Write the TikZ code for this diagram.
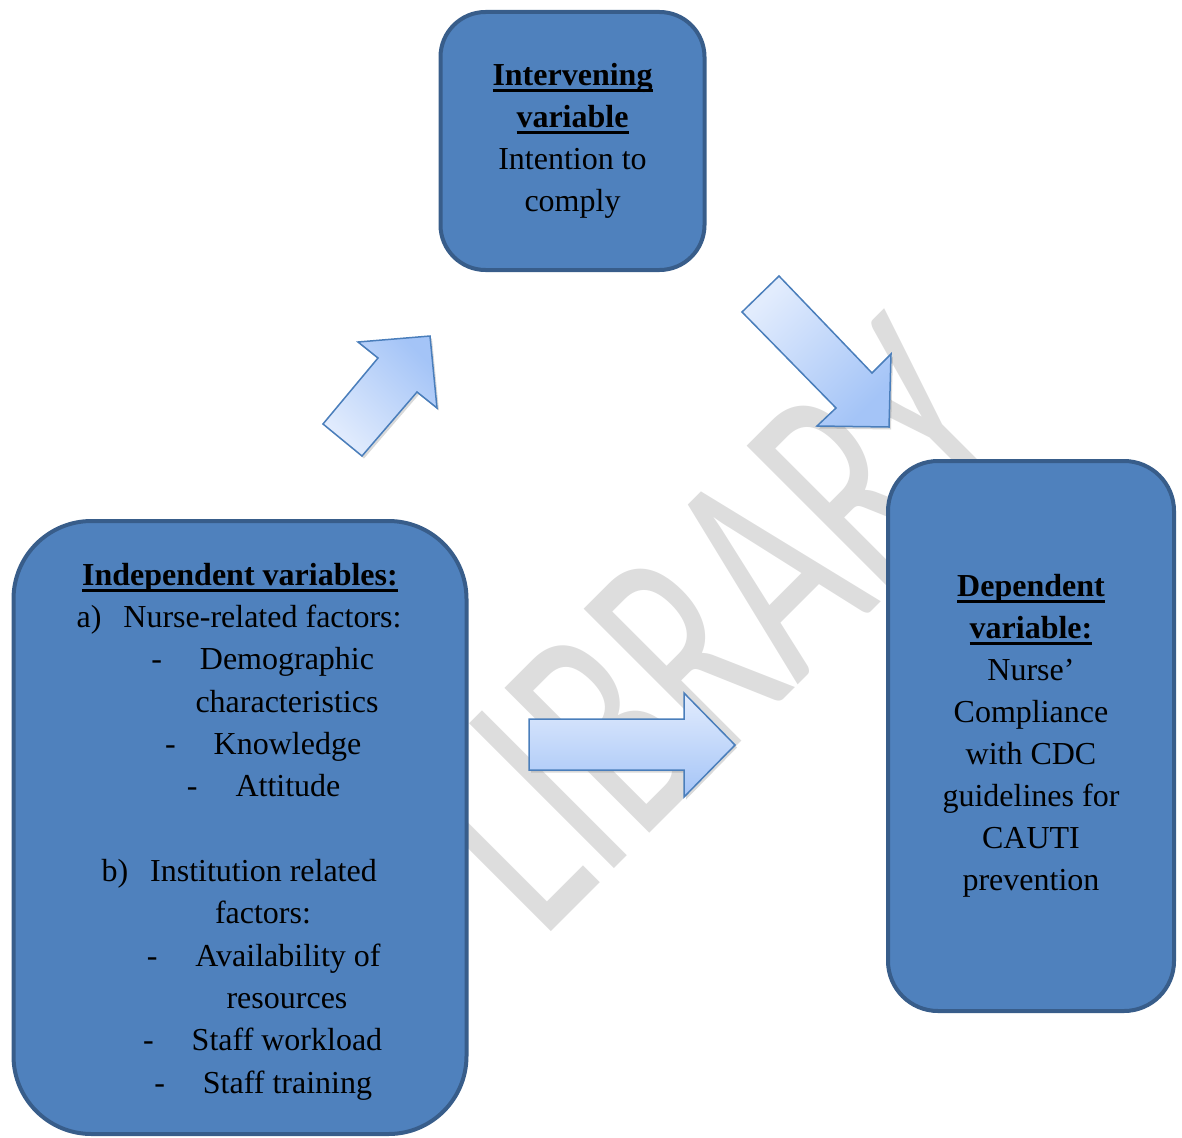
\documentclass[tikz,border=0pt]{standalone}
\usepackage{fontspec}
\setmainfont{Liberation Serif}
\newfontfamily\wmfont{Carlito}
\usetikzlibrary{shadows}
\definecolor{boxfill}{RGB}{79,129,189}
\definecolor{boxline}{RGB}{56,93,138}
\definecolor{arrline}{RGB}{74,126,187}
\definecolor{arrlight}{RGB}{226,236,253}
\definecolor{arrdark}{RGB}{164,196,247}
\definecolor{wmgray}{RGB}{221,221,221}
\newsavebox\ulbox
\newcommand{\ulbf}[1]{\sbox\ulbox{\textbf{#1}}\rlap{\rule[-6.5pt]{\wd\ulbox}{3pt}}\usebox\ulbox}
\tikzset{
  varbox/.style={draw=boxline, fill=boxfill, line width=4pt, rounded corners=#1,
    inner sep=0pt, align=center, font=\fontsize{32}{42}\selectfont},
  txt/.style={font=\fontsize{32}{42}\selectfont, inner sep=0pt, anchor=base},
  blockarrow/.style={draw=arrline, line width=1.5pt,
    drop shadow={opacity=0.3, shadow xshift=2pt, shadow yshift=-2.5pt}},
}
\begin{document}
\begin{tikzpicture}[x=1pt, y=-1pt]
  \useasboundingbox (0,0) rectangle (1182,1137);
  % watermark
  \begin{scope}[shift={(713,625)}]
    \node[font=\wmfont\fontsize{206}{206}\selectfont, text=wmgray, inner sep=0pt,
      rotate=45, yscale=1.55] (wm) at (0,0) {LIBRARY};
  \end{scope}
  % boxes
  \node[varbox=45, minimum width=264pt, minimum height=258pt] (inter) at (572.5,141)
    {\ulbf{Intervening}\\ \ulbf{variable}\\ Intention to\\ comply};
  \node[varbox=78, minimum width=453pt, minimum height=613pt] (indep) at (240,827.5) {};
  \node[varbox=50, minimum width=286pt, minimum height=550pt] (dep) at (1031,736)
    {\ulbf{Dependent}\\ \ulbf{variable:}\\ Nurse’\\ Compliance\\ with CDC\\
     guidelines for\\ CAUTI\\ prevention};
  % text of the left box
  \path
    (240,585) node[txt] (t0) {\ulbf{Independent variables:}}
    (262.5,627) node[txt] (t1) {\llap{a)\hspace{22pt}}Nurse-related factors:}
    (287,669) node[txt] (t2) {\llap{-\hspace{38pt}}Demographic}
    (287,712) node[txt] (t3) {characteristics}
    (287.5,754) node[txt] (t4) {\llap{-\hspace{38pt}}Knowledge}
    (288,796) node[txt] (t5) {\llap{-\hspace{38pt}}Attitude}
    (263.5,881) node[txt] (t6) {\llap{b)\hspace{22pt}}Institution related}
    (263,923) node[txt] (t7) {factors:}
    (288,966) node[txt] (t8) {\llap{-\hspace{38pt}}Availability of}
    (287,1008) node[txt] (t9) {resources}
    (287,1050) node[txt] (t10) {\llap{-\hspace{38pt}}Staff workload}
    (287.5,1093) node[txt] (t11) {\llap{-\hspace{38pt}}Staff training};
  % block arrows
  \draw[blockarrow, top color=arrdark, bottom color=arrlight, shading angle=-45]
    (323,424) -- (378,358) -- (358,342) -- (430,336) -- (437,408) -- (417,392) -- (362,456) -- cycle;
  \draw[blockarrow, top color=arrlight, bottom color=arrdark, shading angle=45]
    (742,312) -- (779,276) -- (872,373) -- (891,354) -- (889,427) -- (817,426) -- (836,408) -- cycle;
  \draw[blockarrow, top color=arrlight, bottom color=arrdark]
    (529,719) -- (684,719) -- (684,693) -- (735,745) -- (684,797) -- (684,770) -- (529,770) -- cycle;
\end{tikzpicture}
\end{document}
